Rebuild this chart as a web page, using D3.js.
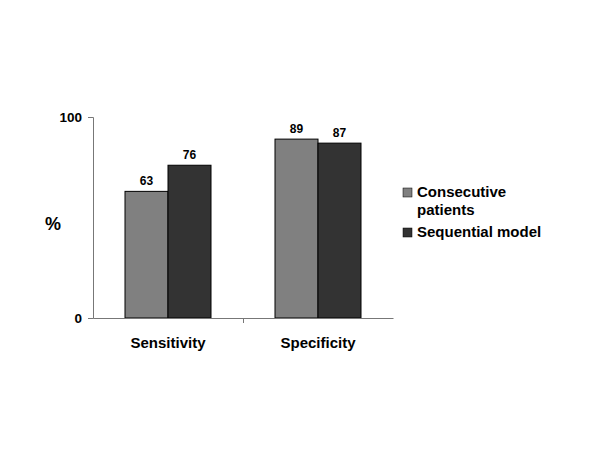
<!DOCTYPE html>
<html><head><meta charset="utf-8">
<script src="https://cdn.jsdelivr.net/npm/d3@7"></script>
<style>body{margin:0;background:#fff}svg{display:block}text{font-family:Arial,"Liberation Sans",sans-serif;font-weight:bold;fill:#000}</style>
</head><body>
<svg id="c" width="600" height="450"></svg>
<script>
const categories = ["Sensitivity", "Specificity"];
const seriesNames = ["Consecutive patients", "Sequential model"];
const consecutive = [63, 89];
const sequential = [76, 87];
const yTicks = [0, 100];
const colors = ["#808080", "#333333"];

const svg = d3.select("#c");
const x0 = 93, x1 = 393, yTop = 117, yBot = 318;
const x = d3.scaleBand().domain(categories).range([x0, x1]).paddingInner(0.4267).paddingOuter(0.21335);
const xs = d3.scaleBand().domain([0,1]).range([0, x.bandwidth()]);
const y = d3.scaleLinear().domain([0, 100]).range([yBot, yTop]);
const series = [consecutive, sequential];

// bars
series.forEach((vals, si) => {
  svg.selectAll(null).data(categories).enter().append("rect")
    .attr("x", d => x(d) + xs(si))
    .attr("y", (d, i) => y(vals[i]))
    .attr("width", xs.bandwidth())
    .attr("height", (d, i) => y(0) - y(vals[i]))
    .attr("fill", colors[si]).attr("stroke", "#000").attr("stroke-width", 1);
  svg.selectAll(null).data(categories).enter().append("text")
    .attr("x", d => x(d) + xs(si) + xs.bandwidth() / 2)
    .attr("y", (d, i) => y(vals[i]) - 6)
    .attr("text-anchor", "middle").attr("font-size", 12)
    .text((d, i) => vals[i]);
});

// y axis
const ya = svg.append("g").attr("transform", `translate(${x0},0)`)
  .call(d3.axisLeft(y).tickValues(yTicks).tickSize(5).tickPadding(6).tickFormat(d3.format("d")));
ya.select(".domain").attr("stroke", "#777");
ya.selectAll(".tick line").attr("stroke", "#777");
ya.selectAll("text").attr("font-size", 13.5).attr("font-family", "Arial,'Liberation Sans',sans-serif").attr("font-weight", "bold").attr("fill", "#000");

// x axis
const xa = svg.append("g").attr("transform", `translate(0,${yBot})`)
  .call(d3.axisBottom(d3.scaleLinear().domain([0, 2]).range([x0, x1])).tickValues([1]).tickSize(5).tickSizeOuter(0).tickFormat(""));
xa.select(".domain").attr("stroke", "#777");
xa.selectAll(".tick line").attr("stroke", "#777");

svg.selectAll(null).data(categories).enter().append("text")
  .attr("x", d => x(d) + x.bandwidth() / 2).attr("y", 348)
  .attr("text-anchor", "middle").attr("font-size", 15).text(d => d);

svg.append("text").attr("x", 53).attr("y", 230).attr("text-anchor", "middle").attr("font-size", 18).text("%");

// legend
const leg = [{lines: ["Consecutive", "patients"], y: 188}, {lines: ["Sequential model"], y: 228}];
leg.forEach((l, i) => {
  svg.append("rect").attr("x", 403).attr("y", l.y).attr("width", 9).attr("height", 9)
    .attr("fill", colors[i]).attr("stroke", "#000").attr("stroke-width", 0.5);
  l.lines.forEach((t, j) => {
    svg.append("text").attr("x", 417).attr("y", l.y + 9 + j * 18).attr("font-size", 15).text(t);
  });
});
</script>
</body></html>
